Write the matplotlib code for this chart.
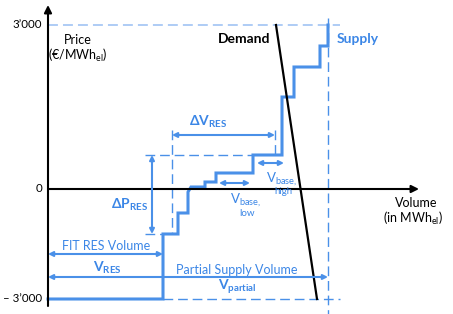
import matplotlib.pyplot as plt

plt.rcParams["font.family"] = ["Lato", "DejaVu Sans"]
plt.rcParams["mathtext.fontset"] = "custom"
plt.rcParams["mathtext.rm"] = "Lato"
plt.rcParams["mathtext.bf"] = "Lato:bold"

# schematic units: volume right of the price axis, price above the volume axis
supply_vol = [0, 115, 115, 130, 130, 140, 140, 143, 157, 157, 168, 168, 205, 205,
              234, 234, 246, 246, 272, 272, 280, 280]
supply_price = [-110, -110, -45, -45, -24, -24, -3, 2, 2, 7, 7, 16, 16, 34,
                34, 92, 92, 122, 122, 143, 143, 164]
demand_vol = [228, 269]
demand_price = [164, -110]

price_cap = 164
price_floor = -110
tick_pos = [164, 0, -110]
tick_labels = ["3\u2019000", "0", "\u2013 3\u2019000"]

v_res = 115          # FIT RES volume
v_partial = 280      # partial supply volume
dv_res = (124, 227)  # delta V_RES span
dp_res = (34, -45)   # delta P_RES span
v_base_low = (171, 202)
v_base_high = (209, 236)

BLUE = "#4a90e8"
LIGHT = "#a8c8f5"
TBLUE = "#3b86e6"
DASH = (0, (7, 3.5))

fig = plt.figure(figsize=(4.53, 3.14), dpi=100)
ax = fig.add_axes([0, 0, 1, 1])
ax.set_xlim(-48, 405)
ax.set_ylim(-125, 189)
ax.axis("off")

# helper lines
ax.plot([0, 292], [price_cap, price_cap], color=LIGHT, lw=1.3, ls=(0, (5.5, 2.8)))
ax.plot([v_res, 292], [price_floor, price_floor], color=BLUE, lw=1.0, ls=DASH)
ax.plot([v_partial, v_partial], [171, -125], color=BLUE, lw=1.0, ls=DASH)
ax.plot([dv_res[0], dv_res[0]], [59, dp_res[1]], color=BLUE, lw=1.0, ls=DASH)
ax.plot([dv_res[1], dv_res[1]], [59, dp_res[0]], color=BLUE, lw=1.0, ls=DASH)
ax.plot([97, 205], [dp_res[0], dp_res[0]], color=BLUE, lw=1.0, ls=DASH)
ax.plot([97, v_res], [dp_res[1], dp_res[1]], color=BLUE, lw=1.0, ls=DASH)

# axes
arrow_k = dict(arrowstyle="-|>", color="black", lw=1.5, mutation_scale=11,
               shrinkA=0, shrinkB=0)
ax.annotate("", xy=(0, 184), xytext=(0, -117), arrowprops=arrow_k)
ax.annotate("", xy=(371, 0), xytext=(0, 0), arrowprops=arrow_k)

# curves
ax.plot(supply_vol, supply_price, color=BLUE, lw=2.2, solid_joinstyle="miter")
ax.plot(demand_vol, demand_price, color="black", lw=1.6)

# double arrows
dbl = dict(arrowstyle="<|-|>", color=BLUE, lw=1.5, mutation_scale=7,
           shrinkA=0, shrinkB=0)
ax.annotate("", xy=(dv_res[0], 54), xytext=(dv_res[1], 54), arrowprops=dbl)
ax.annotate("", xy=(104, dp_res[0]), xytext=(104, dp_res[1]), arrowprops=dbl)
ax.annotate("", xy=(v_base_low[0], 6), xytext=(v_base_low[1], 6), arrowprops=dbl)
ax.annotate("", xy=(v_base_high[0], 26), xytext=(v_base_high[1], 26), arrowprops=dbl)
ax.annotate("", xy=(0, -65), xytext=(v_res, -65), arrowprops=dbl)
ax.annotate("", xy=(0, -88), xytext=(v_partial, -88), arrowprops=dbl)

# tick labels
for p, lab in zip(tick_pos, tick_labels):
    ax.text(-6, p, lab, ha="right", va="center", fontsize=8.3)

fs = 9
ax.text(30, 149, "Price", ha="center", va="center", fontsize=fs)
ax.text(30, 134, r"(€/MWh$_{\mathrm{el}}$)", ha="center", va="center", fontsize=fs)
ax.text(368, -14, "Volume", ha="center", va="center", fontsize=fs)
ax.text(365, -29, r"(in MWh$_{\mathrm{el}}$)", ha="center", va="center", fontsize=fs)

ax.text(222, 150, "Demand", ha="right", va="center", fontsize=10, fontweight="bold")
ax.text(289, 150, "Supply", ha="left", va="center", fontsize=10,
        fontweight="bold", color=TBLUE)

ax.text(160, 67, r"$\mathbf{\Delta V_{RES}}$", ha="center", va="center", fontsize=10,
        color=TBLUE)
ax.text(82, -16, r"$\mathbf{\Delta P_{RES}}$", ha="center", va="center", fontsize=10,
        color=TBLUE)
ax.text(58, -57, "FIT RES Volume", ha="center", va="center", fontsize=fs, color=TBLUE)
ax.text(59, -79, r"$\mathbf{V_{RES}}$", ha="center", va="center", fontsize=10,
        color=TBLUE)
ax.text(189, -81, "Partial Supply Volume", ha="center", va="center", fontsize=fs,
        color=TBLUE)
ax.text(189, -98, r"$\mathbf{V_{partial}}$", ha="center", va="center", fontsize=10,
        color=TBLUE)

ax.text(198, -11, r"V$_{\mathrm{base,}}$", ha="center", va="center", fontsize=9.5,
        color=TBLUE)
ax.text(199, -24, "low", ha="center", va="center", fontsize=7, color=TBLUE)
ax.text(234, 10, r"V$_{\mathrm{base,}}$", ha="center", va="center", fontsize=9.5,
        color=TBLUE)
ax.text(235, -3, "high", ha="center", va="center", fontsize=7, color=TBLUE)

fig.savefig("out.png", dpi=100)
